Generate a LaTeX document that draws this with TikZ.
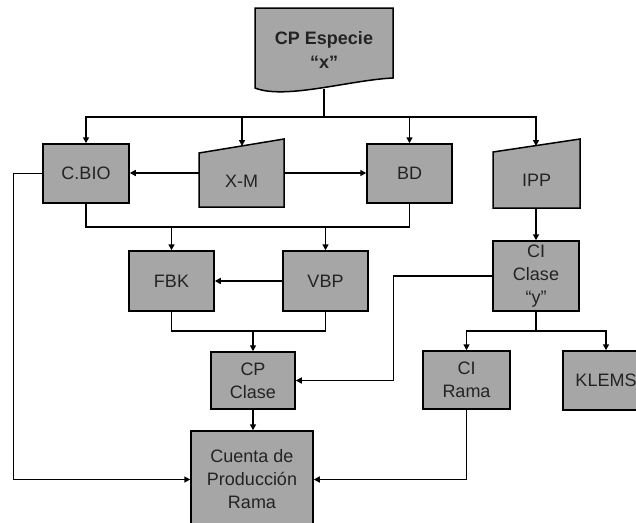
\documentclass[tikz,border=0pt]{standalone}
\usepackage{fontspec}
\setmainfont{Liberation Sans}
\usetikzlibrary{arrows.meta}
\definecolor{boxgray}{RGB}{166,166,166}
\definecolor{txt}{RGB}{35,35,35}
\tikzset{
 box/.style={draw, fill=boxgray, line width=1.5pt, align=center, inner sep=0pt, text=txt, font=\fontsize{18}{23}\selectfont},
 ghost/.style={inner sep=0pt, align=center, text=txt, font=\fontsize{18}{23}\selectfont},
 line/.style={line width=1.5pt},
 arr/.style={line width=1.5pt, -{Triangle[length=6pt,width=6pt]}},
}
\begin{document}
\begin{tikzpicture}[x=1pt,y=-1pt]
\useasboundingbox (0,0) rectangle (636,522);

% document shape
\draw[box] (255,8) -- (393,8) -- (393,78) .. controls (350,80) and (285,100) .. (255,88) -- cycle;
\node[ghost, font=\bfseries\fontsize{18}{24}\selectfont] (cpe) at (324,50) {CP Especie\\“x”};
\coordinate (stem) at (324,88.5);
\coordinate (j1) at (324,117);

% row 1
\node[box, minimum width=86, minimum height=59] (cbio) at (86,173.5) {C.BIO};
\draw[box] (199,153) -- (284,139) -- (284,207) -- (199,207) -- cycle;
\node[ghost, minimum width=85, minimum height=68] (xm) at (241.5,173) {};
\node[ghost] (xmt) at (241.5,181) {X-M};
\coordinate (xmtop) at (242,146);
\node[box, minimum width=85, minimum height=59] (bd) at (409.5,173.5) {BD};
\draw[box] (493,152) -- (580,139) -- (580,208) -- (493,208) -- cycle;
\node[ghost, minimum width=87, minimum height=69] (ipp) at (536.5,173.5) {};
\node[ghost] (ippt) at (536.5,180) {IPP};
\coordinate (ipptop) at (536,146);

% row 2
\node[box, minimum width=85, minimum height=60] (fbk) at (171.5,281) {FBK};
\node[box, minimum width=85, minimum height=60] (vbp) at (325.5,281) {VBP};
\node[box, minimum width=86, minimum height=70] (cicl) at (536,276) {CI\\Clase\\“y”};

% row 3
\node[box, minimum width=84, minimum height=57] (cpcl) at (253,380.5) {CP\\Clase};
\node[box, minimum width=87, minimum height=58] (cira) at (466.5,380) {CI\\Rama};
\node[box, minimum width=86, minimum height=59] (klems) at (606,380.5) {KLEMS};

% bottom
\node[box, minimum width=122, minimum height=97] (cpr) at (252,479.5) {Cuenta de\\Producción\\Rama};

\coordinate (j2) at (250,227);
\coordinate (j3) at (253,331);
\coordinate (j4) at (536,331);

% connectors
\draw[line] (stem) -- (j1);
\draw[arr] (j1) -| (cbio.north);
\draw[arr] (j1) -| (xmtop);
\draw[arr] (j1) -| (bd.north);
\draw[arr] (j1) -| (ipptop);

\draw[arr] (xm.west) -- (xm.west -| cbio.east);
\draw[arr] (xm.east) -- (xm.east -| bd.west);

\draw[line] (cbio.south) |- (j2) -| (bd.south);
\draw[arr] (fbk.north |- j2) -- (fbk.north);
\draw[arr] (vbp.north |- j2) -- (vbp.north);

\draw[arr] (vbp.west) -- (fbk.east);
\draw[line] (fbk.south) |- (j3) -| (vbp.south);
\draw[arr] (j3) -- (cpcl.north);

\draw[arr] (ipp.south -| cicl.north) -- (cicl.north);
\draw[arr] (cicl.west) -- ++(-99,0) |- (cpcl.east);
\draw[arr] (cicl.south) -- (j4) -| (cira.north);
\draw[arr] (j4) -| (klems.north);

\draw[arr] (cpcl.south) -- (cpcl.south |- cpr.north);
\draw[arr] (cbio.west) -- ++(-29,0) |- (cpr.west);
\draw[arr] (cira.south) |- (cpr.east);
\end{tikzpicture}
\end{document}
